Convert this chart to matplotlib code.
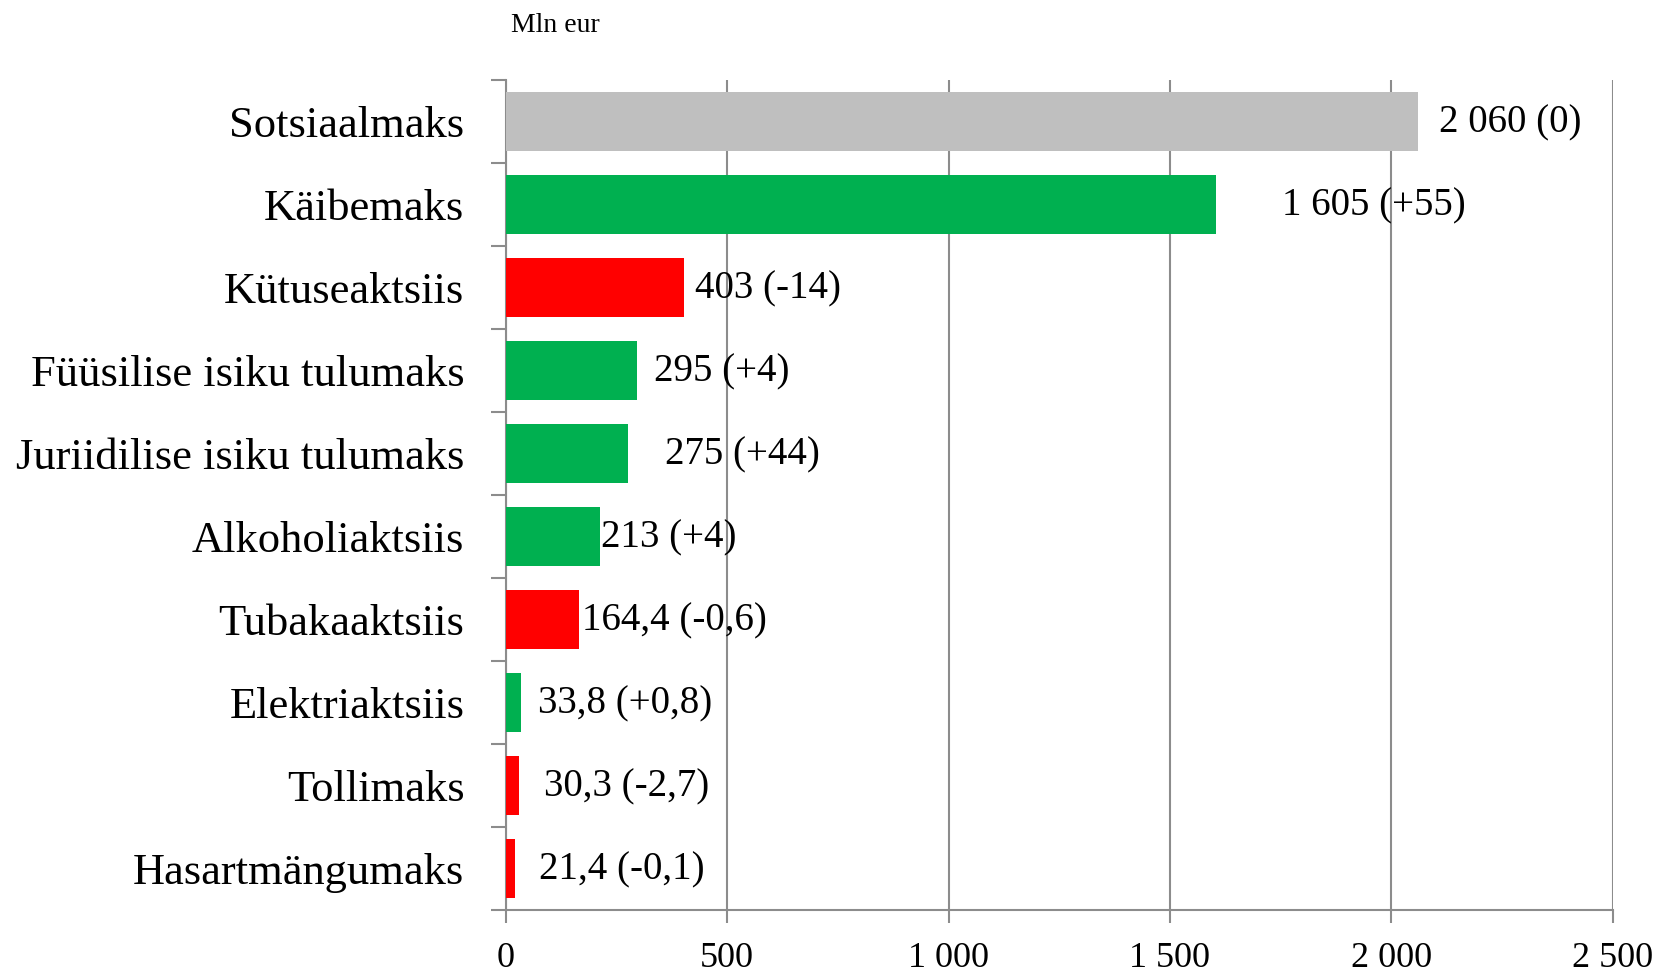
import matplotlib
matplotlib.use("Agg")
import matplotlib.pyplot as plt
import numpy as np
from matplotlib.ticker import FixedLocator

plt.rcParams['font.family'] = ['Liberation Serif', 'DejaVu Serif']

categories = ["Sotsiaalmaks", "Käibemaks", "Kütuseaktsiis", "Füüsilise isiku tulumaks",
              "Juriidilise isiku tulumaks", "Alkoholiaktsiis", "Tubakaaktsiis",
              "Elektriaktsiis", "Tollimaks", "Hasartmängumaks"]
values = [2060, 1605, 403, 295, 275, 213, 164.4, 33.8, 30.3, 21.4]
changes = [0, 55, -14, 4, 44, 4, -0.6, 0.8, -2.7, -0.1]
labels = ["2 060 (0)", "1 605 (+55)", "403 (-14)", "295 (+4)", "275 (+44)", "213 (+4)",
          "164,4 (-0,6)", "33,8 (+0,8)", "30,3 (-2,7)", "21,4 (-0,1)"]
xticks = [0, 500, 1000, 1500, 2000, 2500]
xticklabels = ["0", "500", "1 000", "1 500", "2 000", "2 500"]
label_offsets_px = [21, 66, 11, 17, 37, 1, 3, 17, 25, 24]

GREEN, RED, GRAY = "#00B050", "#FF0000", "#BFBFBF"
colors = [GRAY if c == 0 else (GREEN if c > 0 else RED) for c in changes]

fig = plt.figure(figsize=(16.62, 9.75), dpi=100)
ax = fig.add_axes([506/1662, 1 - 910/975, (1612.5-506)/1662, (910-80)/975])

y = np.arange(len(categories))
ax.barh(y, values, height=0.71, color=colors, zorder=3)

ax.set_xlim(0, 2500)
ax.set_ylim(len(categories) - 0.5, -0.5)

gridc = "#8C8C8C"
ax.set_xticks(xticks)
ax.set_xticklabels(xticklabels, fontsize=26)
ax.grid(axis='x', color=gridc, linewidth=1.5, zorder=0)
ax.tick_params(axis='x', direction='out', length=9, width=1.5, color=gridc, pad=14)

ax.set_yticks(y)
ax.set_yticklabels(categories, fontsize=32)
ax.tick_params(axis='y', which='major', length=0, pad=30)
ax.yaxis.set_minor_locator(FixedLocator(np.arange(-0.5, len(categories), 1.0)))
ax.tick_params(axis='y', which='minor', direction='out', length=10.5, width=1.5, color=gridc)

for s in ['top', 'right']:
    ax.spines[s].set_visible(False)
for s in ['left', 'bottom']:
    ax.spines[s].set_color(gridc)
    ax.spines[s].set_linewidth(1.5)

for i, (v, lab) in enumerate(zip(values, labels)):
    ax.annotate(lab, xy=(v, i), xytext=(label_offsets_px[i] * 0.72, -1), textcoords='offset points',
                va='center', ha='left', fontsize=28, zorder=4)

fig.text(511/1662, 1 - 25/975, "Mln eur", fontsize=20, va='center', ha='left')

fig.savefig("out.png", dpi=100)
